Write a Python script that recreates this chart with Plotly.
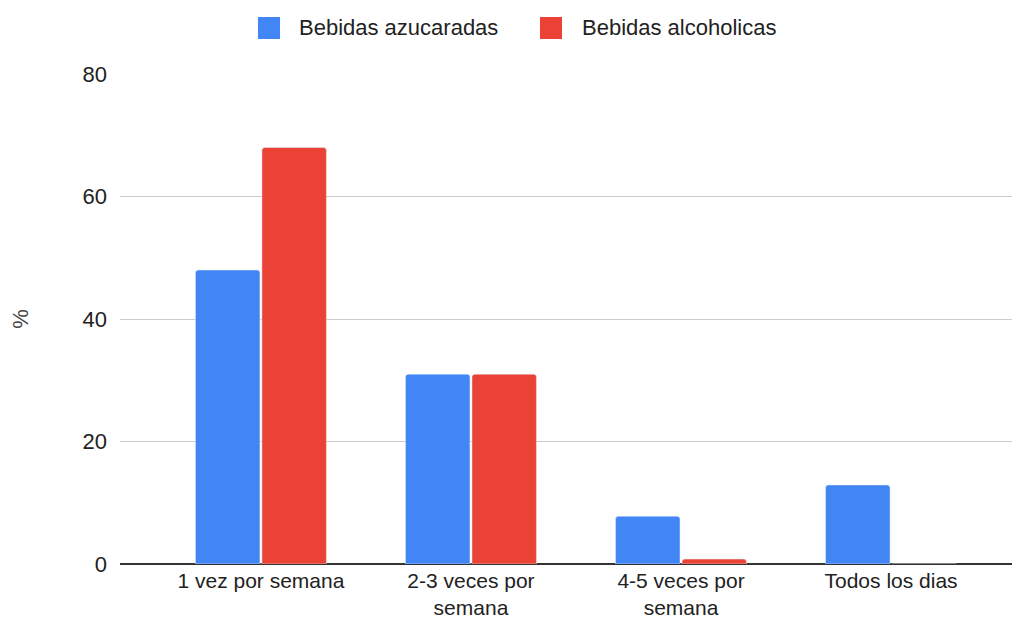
import plotly.graph_objects as go

categories = ["1 vez por semana", "2-3 veces por<br>semana", "4-5 veces por<br>semana", "Todos los dias"]
series_names = ["Bebidas azucaradas", "Bebidas alcoholicas"]
azucaradas = [48, 31, 7.8, 12.9]
alcoholicas = [68, 31, 0.8, 0]
y_ticks = [0, 20, 40, 60, 80]
colors = ["#4285F4", "#EA4335"]

FONT = "Liberation Sans, Arial, sans-serif"
FS = 22
W, H = 1012, 611          # page has an 8px body margin
L, R, T, B = 112, 0, 66, 55
PW, PH = W - L - R, H - T - B

fig = go.Figure()
fig.add_trace(go.Bar(name=series_names[0], x=categories, y=azucaradas, marker_color=colors[0], showlegend=False))
fig.add_trace(go.Bar(name=series_names[1], x=categories, y=alcoholicas, marker_color=colors[1], showlegend=False))

def px2paper_x(px):
    return (px - L) / PW

def px2paper_y(py):
    return (H - B - py) / PH

# custom legend (square swatches like the reference)
legend_items = [(250, 289), (532, 572)]
for (sx, tx), name, col in zip(legend_items, series_names, colors):
    fig.add_shape(type="rect", xref="paper", yref="paper",
                  x0=px2paper_x(sx), x1=px2paper_x(sx + 22),
                  y0=px2paper_y(9), y1=px2paper_y(31),
                  fillcolor=col, line=dict(width=0), layer="above")
    fig.add_annotation(text=name, xref="paper", yref="paper",
                       x=px2paper_x(tx), y=px2paper_y(20), xanchor="left", yanchor="middle",
                       showarrow=False, font=dict(family=FONT, size=FS, color="#222222"))

fig.update_layout(
    width=W, height=H,
    margin=dict(l=L, r=R, t=T, b=B),
    paper_bgcolor="white", plot_bgcolor="white",
    font=dict(family=FONT, size=FS, color="#222222"),
    barmode="group", bargap=0.367, bargroupgap=0.03,
    barcornerradius=3,
    showlegend=False,
    xaxis=dict(range=[-0.671, 3.614], showgrid=False, ticks="", showline=False, automargin=False,
               ticklabelstandoff=2, tickfont=dict(size=21)),
    yaxis=dict(range=[0, 80], tickvals=y_ticks, showgrid=True, gridcolor="#cccccc", gridwidth=1,
               zeroline=True, zerolinecolor="#333333", zerolinewidth=2, ticks="", ticklabelstandoff=12,
               automargin=False,
               title=dict(text="%", standoff=55, font=dict(size=FS, color="#444444"))),
)
fig.write_html("out.html")
